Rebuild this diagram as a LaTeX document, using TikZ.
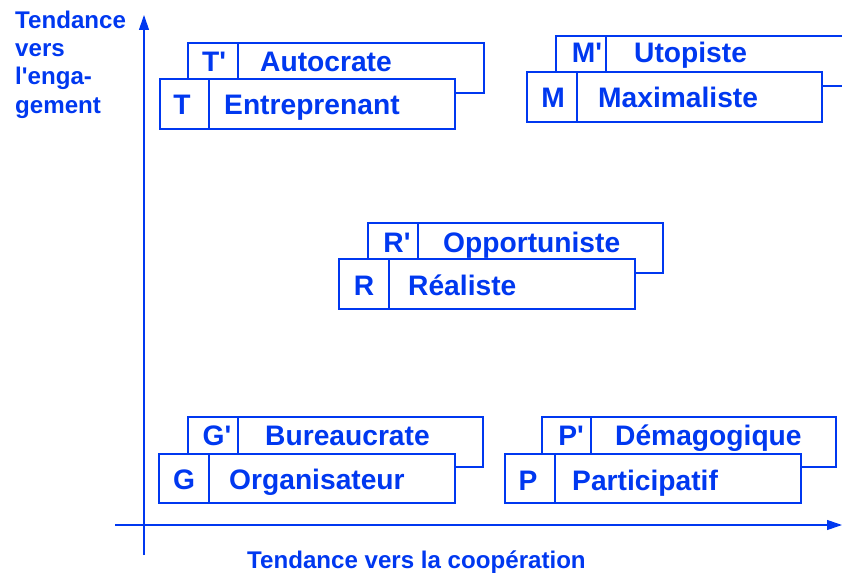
\documentclass[tikz,border=0pt]{standalone}
\usepackage{fontspec}
\newfontfamily\bsans{Liberation Sans}
\usetikzlibrary{arrows.meta}
\definecolor{bl}{RGB}{0,56,240}
\begin{document}
\begin{tikzpicture}[x=1bp,y=-1bp,
  box/.style={draw=bl,line width=1.1bp,fill=white},
  sep/.style={draw=bl,line width=1.1bp},
  lbl/.style={inner sep=0,text=bl,font=\bsans\fontsize{28.3}{30}\selectfont\bfseries},
  axlbl/.style={inner sep=0,text=bl,font=\bsans\fontsize{24.2}{28}\selectfont\bfseries,anchor=base west},
  axis/.style={draw=bl,line width=1.1bp,-{Triangle[length=15bp,width=10bp]}}]
\useasboundingbox (0,0) rectangle (842,575);
% axes
\coordinate (vs) at (144,555);
\coordinate (ve) at (144,15);
\coordinate (hs) at (115,525);
\coordinate (he) at (842,525);
\draw[axis] (vs) -- (ve);
\draw[axis] (hs) -- (he);
\node[axlbl] (ya) at (15,28.3) {Tendance};
\node[axlbl] (yb) at (15,56.6) {vers};
\node[axlbl] (yc) at (15,85) {l'enga-};
\node[axlbl] (yd) at (15,113.3) {gement};
\node[axlbl] (xl) at (247,568) {Tendance vers la coopération};
% T
\draw[box] (188,43) rectangle (484,93); \draw[sep] (238,43) -- (238,93);
\node[lbl,anchor=base] (tp) at (214,72) {T'};
\node[lbl,anchor=base west] (tpt) at (260,72) {Autocrate};
\draw[box] (160,79) rectangle (455,129); \draw[sep] (209,79) -- (209,129);
\node[lbl,anchor=base] (t) at (182,115) {T};
\node[lbl,anchor=base west] (tt) at (224,115) {Entreprenant};
% M
\draw[box] (556,36) rectangle (852,86); \draw[sep] (606,36) -- (606,86);
\node[lbl,anchor=base] (mp) at (587,62.5) {M'};
\node[lbl,anchor=base west] (mpt) at (634,62.5) {Utopiste};
\draw[box] (527,72) rectangle (822,122); \draw[sep] (577,72) -- (577,122);
\node[lbl,anchor=base] (m) at (553,107.5) {M};
\node[lbl,anchor=base west] (mt) at (598,107.5) {Maximaliste};
% R
\draw[box] (368,223) rectangle (663,273); \draw[sep] (418,223) -- (418,273);
\node[lbl,anchor=base] (rp) at (397,252.5) {R'};
\node[lbl,anchor=base west] (rpt) at (443,252.5) {Opportuniste};
\draw[box] (339,259) rectangle (635,309); \draw[sep] (389,259) -- (389,309);
\node[lbl,anchor=base] (r) at (364,295) {R};
\node[lbl,anchor=base west] (rt) at (408,295) {Réaliste};
% G
\draw[box] (188,417) rectangle (483,467); \draw[sep] (238,417) -- (238,467);
\node[lbl,anchor=base] (gp) at (217,445.5) {G'};
\node[lbl,anchor=base west] (gpt) at (265,445.5) {Bureaucrate};
\draw[box] (159,454) rectangle (455,503); \draw[sep] (209,454) -- (209,503);
\node[lbl,anchor=base] (g) at (184,489) {G};
\node[lbl,anchor=base west] (gt) at (229,489) {Organisateur};
% P
\draw[box] (542,417) rectangle (836,467); \draw[sep] (591,417) -- (591,467);
\node[lbl,anchor=base] (pp) at (571,445.5) {P'};
\node[lbl,anchor=base west] (ppt) at (615,445.5) {Démagogique};
\draw[box] (505,454) rectangle (801,503); \draw[sep] (555,454) -- (555,503);
\node[lbl,anchor=base] (p) at (528,490) {P};
\node[lbl,anchor=base west] (pt) at (572,490) {Participatif};
\end{tikzpicture}
\end{document}
